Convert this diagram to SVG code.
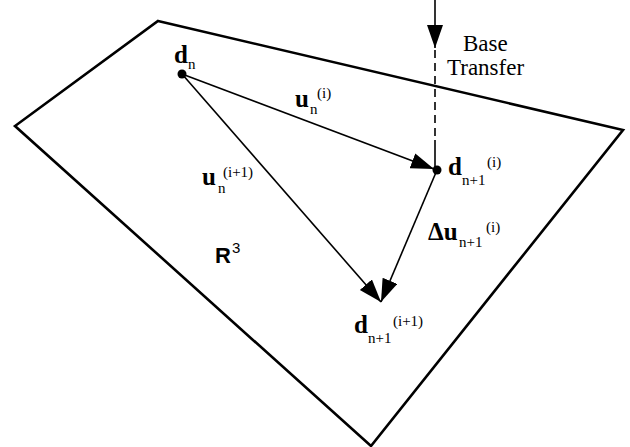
<svg xmlns="http://www.w3.org/2000/svg" width="630" height="447" viewBox="0 0 630 447">
<defs>
<marker id="ah" markerUnits="userSpaceOnUse" markerWidth="26" markerHeight="18" refX="23" refY="8" orient="auto">
<path d="M0,0 L23,8 L0,16 z" fill="#000"/>
</marker>
<style>
.plane{fill:none;stroke:#000;stroke-width:2.6;stroke-linejoin:miter}
.vec{stroke:#000;stroke-width:1.6;fill:none}
</style>
</defs>
<rect width="630" height="447" fill="#fff"/>
<g id="plane">
<polygon class="plane" points="158,21 623,130 371,446 15,126"/>
</g>
<g id="connectors">
<line class="vec" x1="182" y1="74" x2="434" y2="169" marker-end="url(#ah)"/>
<line class="vec" x1="182" y1="74" x2="381" y2="302" marker-end="url(#ah)"/>
<line class="vec" x1="437" y1="170" x2="381" y2="302" marker-end="url(#ah)"/>
<line class="vec" x1="435" y1="0" x2="435" y2="48" marker-end="url(#ah)"/>
<line class="vec" x1="435" y1="50" x2="435" y2="140" stroke-dasharray="8 5"/>
<line class="vec" x1="435" y1="140" x2="435" y2="170"/>
</g>
<g font-family="Liberation Serif, Times New Roman, serif">
<g id="node-dn">
<circle cx="182" cy="74" r="4.5" fill="#000"/>
<text font-weight="bold" font-size="25" x="174" y="63">d</text>
<text font-size="15" x="188" y="69">n</text>
</g>
<g id="node-dn1i">
<circle cx="437" cy="170" r="4.5" fill="#000"/>
<text font-weight="bold" font-size="25" x="448" y="175">d</text>
<text font-size="15" x="462" y="185">n+1</text>
<text font-size="15" x="487" y="167">(i)</text>
</g>
<g id="node-dn1i1">
<text font-weight="bold" font-size="25" x="354" y="333">d</text>
<text font-size="15" x="368" y="343">n+1</text>
<text font-size="15" x="393" y="326">(i+1)</text>
</g>
<g id="label-uni">
<text font-weight="bold" font-size="25" x="295" y="107">u</text>
<text font-size="15" x="310" y="114">n</text>
<text font-size="15" x="317" y="98">(i)</text>
</g>
<g id="label-uni1">
<text font-weight="bold" font-size="25" x="202" y="185">u</text>
<text font-size="15" x="218" y="193">n</text>
<text font-size="15" x="223" y="177">(i+1)</text>
</g>
<g id="label-du">
<text font-weight="bold" font-size="25" x="428" y="240">Δu</text>
<text font-size="15" x="459" y="247">n+1</text>
<text font-size="15" x="486" y="232">(i)</text>
</g>
<g id="label-base">
<text font-size="23" x="463" y="51">Base</text>
<text font-size="23" x="447" y="75">Transfer</text>
</g>
</g>
<g id="label-R3" font-family="Liberation Sans, Arial, sans-serif">
<text x="215" y="263" font-weight="bold" font-size="22">R</text>
<text x="232" y="253" font-size="15">3</text>
</g>
</svg>
